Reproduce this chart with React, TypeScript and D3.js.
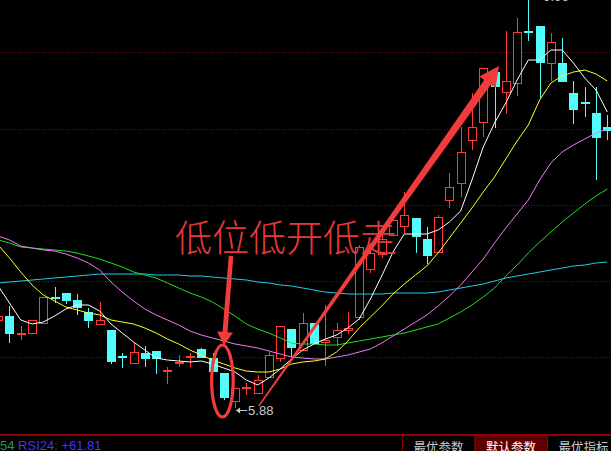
import React from 'react';
import * as d3 from 'd3';

const W = 611;
const H = 451;

// ---- candle data (price) ----
const opens = [
  6.76, 6.80, 6.62, 6.63, 6.73, 6.99, 7.03, 6.96, 6.84, 6.72,
  6.66, 6.40, 6.33, 6.43, 6.45, 6.25, 6.33, 6.39, 6.47, 6.38,
  6.23, 5.95, 6.08, 6.03, 6.19, 6.38, 6.67, 6.46, 6.73, 6.54,
  6.59, 6.66, 6.79, 7.27, 7.42, 7.61, 7.70, 7.78, 7.57, 7.44,
  7.96, 8.13, 8.56, 8.74, 9.24, 9.04, 9.13, 9.65, 9.70, 9.33,
  9.33, 9.03, 8.94, 8.83, 8.69,
];
const closes = [
  6.80, 6.62, 6.63, 6.76, 6.99, 6.98, 6.95, 6.88, 6.75, 6.76,
  6.34, 6.39, 6.44, 6.37, 6.37, 6.26, 6.34, 6.40, 6.38, 6.24,
  5.98, 6.08, 6.09, 6.16, 6.41, 6.70, 6.48, 6.73, 6.52, 6.56,
  6.66, 6.68, 7.49, 7.43, 7.57, 7.76, 7.81, 7.59, 7.40, 7.79,
  8.09, 8.44, 8.69, 9.28, 9.09, 9.15, 9.64, 9.64, 9.33, 9.54,
  9.14, 8.86, 8.92, 8.58, 8.65,
];
const highs = [
  6.82, 6.90, 6.70, 6.76, 6.99, 7.09, 7.03, 7.02, 6.88, 6.94,
  6.66, 6.43, 6.53, 6.50, 6.45, 6.29, 6.41, 6.43, 6.48, 6.43,
  6.23, 6.08, 6.13, 6.21, 6.44, 6.70, 6.67, 6.83, 6.73, 6.91,
  6.73, 6.84, 7.51, 7.48, 7.66, 7.81, 8.04, 7.78, 7.69, 7.81,
  8.23, 8.69, 9.03, 9.28, 9.28, 9.65, 9.78, 9.96, 9.70, 9.63,
  9.58, 9.15, 9.09, 9.09, 8.81,
];
const lows = [
  6.74, 6.53, 6.56, 6.63, 6.73, 6.93, 6.92, 6.81, 6.68, 6.72,
  6.32, 6.28, 6.33, 6.29, 6.22, 6.12, 6.29, 6.29, 6.38, 6.24,
  5.96, 5.88, 6.01, 6.03, 6.18, 6.34, 6.39, 6.46, 6.52, 6.30,
  6.50, 6.62, 6.76, 7.23, 7.38, 7.60, 7.63, 7.43, 7.32, 7.44,
  7.88, 7.99, 8.46, 8.59, 8.68, 8.82, 9.00, 9.55, 8.98, 9.15,
  9.14, 8.72, 8.79, 8.16, 8.56,
];

// ---- moving average lines ----
const ma5 = [
  7.10, 6.93, 6.76, 6.72, 6.74, 6.80, 6.87, 6.91, 6.91, 6.85,
  6.72, 6.63, 6.54, 6.46, 6.38, 6.36, 6.35, 6.34, 6.35, 6.32,
  6.28, 6.24, 6.16, 6.11, 6.18, 6.27, 6.37, 6.46, 6.52, 6.57,
  6.61, 6.68, 6.77, 6.97, 7.20, 7.44, 7.62, 7.62, 7.62, 7.66,
  7.74, 7.85, 8.16, 8.49, 8.73, 8.93, 9.16, 9.36, 9.36, 9.46,
  9.46, 9.33, 9.18, 9.06, 8.84,
];
const ma10 = [
  7.51, 7.38, 7.24, 7.11, 7.01, 6.95, 6.89, 6.86, 6.83, 6.81,
  6.76, 6.74, 6.72, 6.68, 6.63, 6.57, 6.52, 6.46, 6.41, 6.36,
  6.32, 6.28, 6.25, 6.24, 6.24, 6.27, 6.32, 6.34, 6.35, 6.37,
  6.44, 6.55, 6.68, 6.79, 6.90, 7.02, 7.12, 7.21, 7.30, 7.43,
  7.58, 7.73, 7.88, 8.04, 8.19, 8.37, 8.55, 8.71, 8.96, 9.13,
  9.20, 9.24, 9.26, 9.22, 9.15,
];
const ma20 = [
  7.60, 7.56, 7.50, 7.48, 7.46, 7.45, 7.42, 7.38, 7.33, 7.26,
  7.14, 7.04, 6.95, 6.87, 6.81, 6.76, 6.71, 6.65, 6.61, 6.58,
  6.55, 6.52, 6.50, 6.48, 6.45, 6.42, 6.39, 6.38, 6.37, 6.37,
  6.39, 6.41, 6.44, 6.47, 6.53, 6.60, 6.67, 6.74, 6.81, 6.90,
  7.00, 7.11, 7.24, 7.37, 7.53, 7.68, 7.82, 7.96, 8.16, 8.33,
  8.44, 8.51, 8.57, 8.63, 8.67,
];
const ma30 = [
  7.56, 7.53, 7.49, 7.48, 7.47, 7.46, 7.45, 7.43, 7.40, 7.37,
  7.33, 7.29, 7.24, 7.21, 7.18, 7.13, 7.08, 7.03, 6.99, 6.94,
  6.87, 6.80, 6.72, 6.67, 6.63, 6.58, 6.53, 6.52, 6.52, 6.51,
  6.51, 6.53, 6.55, 6.57, 6.59, 6.61, 6.63, 6.66, 6.69, 6.72,
  6.78, 6.84, 6.91, 6.99, 7.08, 7.20, 7.31, 7.43, 7.54, 7.64,
  7.74, 7.83, 7.92, 8.00, 8.07,
];
const ma60 = [
  7.13, 7.14, 7.15, 7.16, 7.17, 7.18, 7.19, 7.20, 7.21, 7.22,
  7.22, 7.22, 7.22, 7.22, 7.21, 7.21, 7.21, 7.20, 7.20, 7.19,
  7.18, 7.17, 7.16, 7.14, 7.13, 7.11, 7.10, 7.08, 7.06, 7.04,
  7.03, 7.02, 7.02, 7.02, 7.02, 7.03, 7.03, 7.03, 7.03, 7.04,
  7.06, 7.08, 7.10, 7.12, 7.15, 7.18, 7.20, 7.22, 7.24, 7.26,
  7.28, 7.30, 7.31, 7.33, 7.34,
];

const gridLevels = [9.44, 8.675, 7.91, 7.15, 6.39];
const maSeries = [
  { name: 'MA60', values: ma60, color: '#22cbe8' },
  { name: 'MA30', values: ma30, color: '#1ee01e' },
  { name: 'MA20', values: ma20, color: '#f07cf0' },
  { name: 'MA10', values: ma10, color: '#ffff20' },
  { name: 'MA5', values: ma5, color: '#ffffff' },
];

const noteText = '低位低开低走';
const buttonLabels = ['最优参数', '默认参数', '最优指标'];
const rsiLabel = 'RSI24: +61.81';
const rsiPrefix = '54';

const RED = '#ff3a3a';
const CYAN = '#54fcfc';
const ANN = '#f23c3c';

function arrowPath(x1: number, y1: number, x2: number, y2: number, w1: number, w2: number, hl: number, hw: number) {
  const dx = x2 - x1, dy = y2 - y1, L = Math.hypot(dx, dy);
  const ux = dx / L, uy = dy / L, nx = -uy, ny = ux;
  const bx = x2 - ux * hl, by = y2 - uy * hl;
  const pts = [
    [x1 + nx * w1 / 2, y1 + ny * w1 / 2],
    [bx + nx * w2 / 2, by + ny * w2 / 2],
    [bx + nx * hw / 2, by + ny * hw / 2],
    [x2, y2],
    [bx - nx * hw / 2, by - ny * hw / 2],
    [bx - nx * w2 / 2, by - ny * w2 / 2],
    [x1 - nx * w1 / 2, y1 - ny * w1 / 2],
  ];
  return 'M' + pts.map((p) => p[0].toFixed(2) + ',' + p[1].toFixed(2)).join('L') + 'Z';
}

export default function App() {
  const n = opens.length;
  const x = d3.scaleLinear().domain([0, n - 1]).range([-1.8, 607.3]);
  const y = d3.scaleLinear().domain([5.88, 9.96]).range([408, 0]);
  const line = d3.line<number>().x((_, i) => x(i)).y((d) => y(d));

  const lowIdx = d3.minIndex(lows);
  const highIdx = d3.maxIndex(highs);
  const lowV = lows[lowIdx];
  const highV = highs[highIdx];

  // annotation anchors in data space
  const bigA = { x1: x(23.1), y1: y(5.90), x2: x(44.4), y2: y(9.30) };
  const vA = { x1: x(20.64), y1: y(7.40), x2: x(20.02), y2: y(6.51) };
  const ell = { cx: x(19.88), cy: y(6.15), rx: 10.8, ry: 36 };

  return (
    <svg width={W} height={H} style={{ position: 'absolute', left: 0, top: 0, display: 'block', background: '#000' }}>
      <rect x={0} y={0} width={W} height={H} fill="#000" />
      {gridLevels.map((g, i) => (
        <line key={i} x1={0} x2={W} y1={Math.round(y(g)) + 0.5} y2={Math.round(y(g)) + 0.5}
          stroke="#8a0a0a" strokeDasharray="1,2" />
      ))}
      {opens.map((o, i) => {
        const c = closes[i];
        const up = c > o;
        const cx = Math.round(x(i));
        const yt = Math.round(y(Math.max(o, c)));
        const yb = Math.round(y(Math.min(o, c)));
        const yh = Math.round(y(highs[i]));
        const yl = Math.round(y(lows[i]));
        if (up) {
          return (
            <g key={i}>
              {yh < yt && <line x1={cx + 0.5} x2={cx + 0.5} y1={yh} y2={yt} stroke={RED} />}
              {yl > yb && <line x1={cx + 0.5} x2={cx + 0.5} y1={yb + 1} y2={yl} stroke={RED} />}
              <rect x={cx - 3.5} y={yt + 0.5} width={8} height={Math.max(yb - yt, 1)} fill="#000" stroke={RED} />
            </g>
          );
        }
        return (
          <g key={i}>
            <line x1={cx + 0.5} x2={cx + 0.5} y1={yh} y2={yl} stroke={CYAN} />
            <rect x={cx - 4} y={yt} width={9} height={Math.max(yb - yt, 2)} fill={CYAN} />
          </g>
        );
      })}
      {maSeries.map((s) => (
        <path key={s.name} d={line(s.values) || ''} fill="none" stroke={s.color} strokeWidth={1} />
      ))}

      {/* low / high labels */}
      <g fill="#c8c8c8" stroke="#c8c8c8">
        <line x1={x(lowIdx) + 1} x2={x(lowIdx) + 12} y1={y(lowV) + 2.5} y2={y(lowV) + 2.5} strokeWidth={1} />
        <path d={`M${x(lowIdx) + 1},${y(lowV) + 2.5}l4,-3v6z`} stroke="none" />
        <text x={x(lowIdx) + 13} y={y(lowV) + 2.5} dominantBaseline="central" stroke="none"
          fontFamily="Liberation Sans, Arial, sans-serif" fontSize={13}>{lowV.toFixed(2)}</text>
        <line x1={x(highIdx) + 3} x2={x(highIdx) + 14} y1={y(highV) - 4} y2={y(highV) - 4} strokeWidth={1} />
        <text x={x(highIdx) + 15} y={y(highV) - 4} dominantBaseline="central" stroke="none"
          fontFamily="Liberation Sans, Arial, sans-serif" fontSize={13}>{highV.toFixed(2)}</text>
      </g>

      {/* annotations */}
      <text x={x(15.67)} y={y(7.60)} dominantBaseline="central" fill="#e8383a"
        fontFamily="Noto Sans CJK SC" fontWeight={300} fontSize={37}>{noteText}</text>
      <ellipse cx={ell.cx} cy={ell.cy} rx={ell.rx} ry={ell.ry} fill="none" stroke={ANN} strokeWidth={3.2} />
      <path d={arrowPath(vA.x1, vA.y1, vA.x2, vA.y2, 4.5, 5, 13, 16)} fill={ANN} />
      <path d={arrowPath(bigA.x1, bigA.y1, bigA.x2, bigA.y2, 1.5, 8, 20, 20)} fill={ANN} />

      {/* bottom bar */}
      <line x1={0} x2={W} y1={435} y2={435} stroke="#8c0000" strokeWidth={2} />
      <text x={0} y={450} fontFamily="Liberation Sans, Arial, sans-serif" fontSize={13}>
        <tspan fill="#1f9a4f">{rsiPrefix} </tspan>
        <tspan fill="#3a3aff">{rsiLabel}</tspan>
      </text>
      {buttonLabels.map((b, i) => {
        const bx = 402 + i * 72.5;
        return (
          <g key={b}>
            <rect x={bx} y={436} width={72.5} height={16} fill={i === 1 ? '#5c0000' : '#000'} />
            <line x1={bx + 0.5} x2={bx + 0.5} y1={436} y2={H} stroke="#8c0000" />
            <text x={bx + 36.5} y={446} textAnchor="middle" dominantBaseline="central"
              fill={i === 1 ? '#ffffff' : '#c8c8c8'} fontFamily="Noto Sans CJK SC" fontSize={12.5}>{b}</text>
          </g>
        );
      })}
    </svg>
  );
}
